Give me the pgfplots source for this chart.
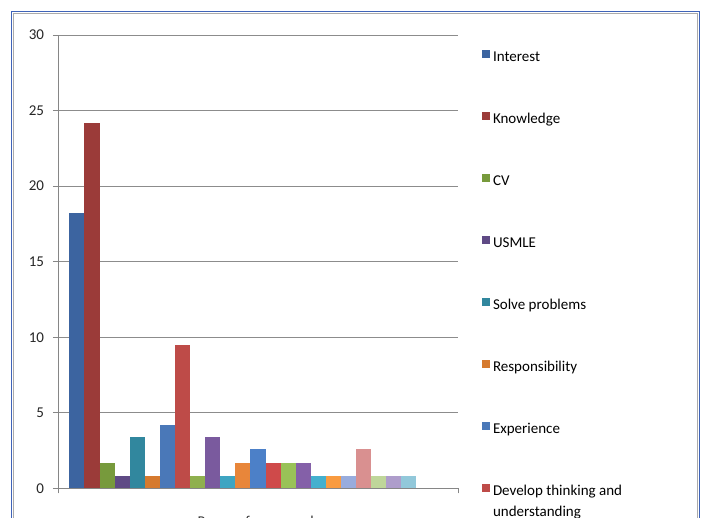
\documentclass[border=0pt]{standalone}
\usepackage{pgfplots}
\pgfplotsset{compat=1.18}
\usepackage{fontspec}
\setmainfont{Carlito}

% series colours
\definecolor{s01}{HTML}{3C64A0}
\definecolor{s02}{HTML}{9B3B39}
\definecolor{s03}{HTML}{779A3C}
\definecolor{s04}{HTML}{5F4A85}
\definecolor{s05}{HTML}{31879E}
\definecolor{s06}{HTML}{D67A2E}
\definecolor{s07}{HTML}{4A78B8}
\definecolor{s08}{HTML}{BE4B48}
\definecolor{s09}{HTML}{8FB04E}
\definecolor{s10}{HTML}{7A5A9E}
\definecolor{s11}{HTML}{3EA5C2}
\definecolor{s12}{HTML}{E8863A}
\definecolor{s13}{HTML}{4C80C8}
\definecolor{s14}{HTML}{CF4A4A}
\definecolor{s15}{HTML}{99C257}
\definecolor{s16}{HTML}{8460A8}
\definecolor{s17}{HTML}{44B0CE}
\definecolor{s18}{HTML}{F99B40}
\definecolor{s19}{HTML}{98ACDD}
\definecolor{s20}{HTML}{D99090}
\definecolor{s21}{HTML}{BFD69A}
\definecolor{s22}{HTML}{AE9DCB}
\definecolor{s23}{HTML}{92C8DA}
\definecolor{frameblue}{HTML}{3F63B8}
\definecolor{framegrey}{HTML}{ABABAB}
\definecolor{axisgrey}{HTML}{868686}
\definecolor{gridgrey}{HTML}{8C8C8C}

\begin{document}
\begin{tikzpicture}
\useasboundingbox (0pt,0pt) rectangle (708pt,517pt);
\begin{scope}
\clip (0pt,0pt) rectangle (708pt,517pt);
\fill[white] (0pt,0pt) rectangle (708pt,517pt);
% chart frame: blue outer rule with a grey inner rule
\draw[line width=1.3pt, framegrey] (13.6pt,-20pt) -- (13.6pt,503.4pt) -- (697.4pt,503.4pt) -- (697.4pt,-20pt);
\draw[line width=1.8pt, frameblue] (11.5pt,-20pt) -- (11.5pt,505.5pt) -- (699.5pt,505.5pt) -- (699.5pt,-20pt);

\begin{axis}[
  at={(58pt,28.7pt)}, anchor=south west,
  scale only axis, width=400pt, height=453.3pt,
  xmin=0, xmax=26.5, ymin=0, ymax=30,
  axis lines*=left,
  axis line style={draw=axisgrey, line width=0.9pt},
  xtick={0,26.5}, xticklabels={},
  ytick={0,5,...,30},
  tick align=outside, major tick length=5pt,
  tick style={draw=axisgrey, line width=0.9pt},
  ymajorgrids, major grid style={draw=gridgrey, line width=0.9pt},
  /pgf/number format/assume math mode=true,
  yticklabel style={font=\fontsize{15}{17}\selectfont, text=black!85, xshift=-5.5pt},
  xlabel={Reason for research},
  every axis x label/.style={at={(axis description cs:0.5,-0.0832)}, anchor=base,
    font=\fontsize{15}{17}\selectfont, text=black!80},
  clip=false,
  legend cell align=left,
  legend image code/.code={\fill[#1] (0pt,0pt) rectangle (8pt,8pt);},
  legend style={draw=none, fill=none, at={(1.06,0.967)}, anchor=north west,
    inner sep=0pt, outer sep=0pt, row sep=47.5pt, column sep=3pt,
    font=\fontsize{15}{17}\selectfont,
    nodes={inner sep=0pt, text height=10pt, text depth=3pt}},
  every axis plot/.append style={ybar, bar width=1, bar shift=0pt, draw=none},
]
\addplot[fill=s01] coordinates {(1.25,18.25)}; \addlegendentry{Interest}
\addplot[fill=s02] coordinates {(2.25,24.2)}; \addlegendentry{Knowledge}
\addplot[fill=s03] coordinates {(3.25,1.67)}; \addlegendentry{CV}
\addplot[fill=s04] coordinates {(4.25,0.82)}; \addlegendentry{USMLE}
\addplot[fill=s05] coordinates {(5.25,3.38)}; \addlegendentry{Solve problems}
\addplot[fill=s06] coordinates {(6.25,0.82)}; \addlegendentry{Responsibility}
\addplot[fill=s07] coordinates {(7.25,4.22)}; \addlegendentry{Experience}
\addplot[fill=s08] coordinates {(8.25,9.49)};
\addlegendentry{\begin{tabular}[t]{@{}l@{}}Develop thinking and\\[4pt]understanding\end{tabular}}
\addplot[fill=s09, forget plot] coordinates {(9.25,0.82)};
\addplot[fill=s10, forget plot] coordinates {(10.25,3.38)};
\addplot[fill=s11, forget plot] coordinates {(11.25,0.82)};
\addplot[fill=s12, forget plot] coordinates {(12.25,1.67)};
\addplot[fill=s13, forget plot] coordinates {(13.25,2.58)};
\addplot[fill=s14, forget plot] coordinates {(14.25,1.67)};
\addplot[fill=s15, forget plot] coordinates {(15.25,1.67)};
\addplot[fill=s16, forget plot] coordinates {(16.25,1.67)};
\addplot[fill=s17, forget plot] coordinates {(17.25,0.82)};
\addplot[fill=s18, forget plot] coordinates {(18.25,0.82)};
\addplot[fill=s19, forget plot] coordinates {(19.25,0.82)};
\addplot[fill=s20, forget plot] coordinates {(20.25,2.58)};
\addplot[fill=s21, forget plot] coordinates {(21.25,0.82)};
\addplot[fill=s22, forget plot] coordinates {(22.25,0.82)};
\addplot[fill=s23, forget plot] coordinates {(23.25,0.82)};
\end{axis}
\end{scope}
\end{tikzpicture}
\end{document}
